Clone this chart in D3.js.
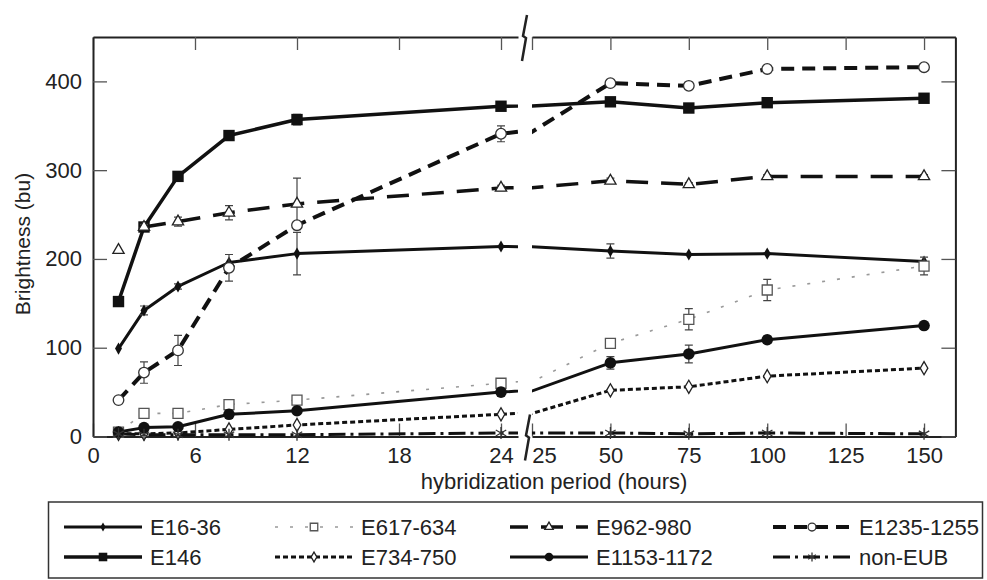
<!DOCTYPE html>
<html>
<head>
<meta charset="utf-8">
<script src="https://cdn.jsdelivr.net/npm/d3@7"></script>
<style>
  body { margin: 0; background: #fff; }
  svg { font-family: "Liberation Sans", Arial, sans-serif; }
</style>
</head>
<body>
<svg id="main" width="987" height="580"></svg>
<script>
"use strict";

//data
const hours = [1.5, 3, 5, 8, 12, 24, 50, 75, 100, 150];
const seriesNames = ["E16-36", "E146", "E617-634", "E734-750", "E962-980", "E1153-1172", "E1235-1255", "non-EUB"];
const e16_36     = [99, 142, 169, 196, 206, 214, 209, 205, 206, 197];
const e146       = [152, 236, 293, 339, 357, 372, 377, 370, 376, 381];
const e617_634   = [5, 26, 26, 36, 41, 60, 105, 132, 165, 192];
const e734_750   = [3, 3, 4, 8, 13, 25, 52, 56, 68, 77];
const e962_980   = [210, 236, 242, 252, 262, 280, 288, 284, 293, 293];
const e1153_1172 = [5, 10, 11, 25, 29, 50, 83, 93, 109, 125];
const e1235_1255 = [41, 72, 97, 190, 238, 341, 398, 395, 414, 416];
const nonEub     = [3, 2, 2, 2, 2, 4, 4, 3, 4, 3];
//error bar half heights
const err16_36     = [0, 5, 3, 0, 24, 0, 8, 0, 0, 0];
const err146       = [0, 0, 0, 0, 6, 0, 0, 0, 0, 0];
const err617_634   = [0, 0, 0, 0, 0, 0, 0, 12, 12, 10];
const err734_750   = [0, 0, 0, 0, 0, 0, 0, 0, 0, 0];
const err962_980   = [0, 3, 5, 8, 29, 3, 3, 2, 2, 2];
const err1153_1172 = [0, 0, 0, 0, 0, 0, 7, 10, 4, 0];
const err1235_1255 = [0, 12, 17, 15, 0, 9, 0, 0, 0, 0];
const errNonEub    = [0, 0, 0, 0, 0, 0, 0, 0, 0, 0];

//tick labels
const xTicksLeft = [0, 6, 12, 18, 24];
const xTicksRight = [25, 50, 75, 100, 125, 150];
const yTicks = [0, 100, 200, 300, 400];

//styles
const styles = {
  "E16-36":     { marker: "diamondFilled", width: 3, dash: null, color: "#111" },
  "E146":       { marker: "squareFilled", width: 3.5, dash: null, color: "#111" },
  "E617-634":   { marker: "squareOpen", width: 1.6, dash: "3,12", color: "#999" },
  "E734-750":   { marker: "diamondOpen", width: 3, dash: "5,3", color: "#111" },
  "E962-980":   { marker: "triangleOpen", width: 3.5, dash: "22,13", color: "#111", skipFirst: true },
  "E1153-1172": { marker: "circleFilled", width: 3, dash: null, color: "#111" },
  "E1235-1255": { marker: "circleOpen", width: 4, dash: "13,8", color: "#111" },
  "non-EUB":    { marker: "asterisk", width: 3, dash: "17,5,3,5", color: "#111" }
};

const values = [e16_36, e146, e617_634, e734_750, e962_980, e1153_1172, e1235_1255, nonEub];
const errors = [err16_36, err146, err617_634, err734_750, err962_980, err1153_1172, err1235_1255, errNonEub];

const series = seriesNames.map((name, i) => ({
  name: name,
  style: styles[name],
  points: hours.map((h, j) => ({ h: h, v: values[i][j], e: errors[i][j] }))
}));

//scales
const xL = d3.scaleLinear().domain([0, 25]).range([93, 518]);
const xR = d3.scaleLinear().domain([25, 160]).range([532, 955.4]);
const y = d3.scaleLinear().domain([0, 450]).range([436.5, 37]);

const mySvg = d3.select("#main");
const defs = mySvg.append("defs");
defs.append("clipPath").attr("id", "clipL")
  .append("rect").attr("x", 93).attr("y", 0).attr("width", 425).attr("height", 450);
defs.append("clipPath").attr("id", "clipR")
  .append("rect").attr("x", 532).attr("y", 0).attr("width", 424).attr("height", 450);

const panels = [
  { x: xL, clip: "clipL", keep: (h) => h <= 25 },
  { x: xR, clip: "clipR", keep: (h) => h >= 25 }
];

//axes
const styleAxis = (g) => {
  g.select(".domain").attr("stroke", "#222").attr("stroke-width", 2);
  g.selectAll(".tick line").attr("stroke", "#555").attr("stroke-width", 1.3);
  g.selectAll(".tick text").attr("fill", "#222").style("font-size", "22px");
}

mySvg.append("g").attr("transform", `translate(0,${y(0)})`)
  .call(d3.axisBottom(xL).tickValues(xTicksLeft).tickSizeInner(-13).tickSizeOuter(0).tickPadding(11))
  .call(styleAxis);
const bottomRight = mySvg.append("g").attr("transform", `translate(0,${y(0)})`)
  .call(d3.axisBottom(xR).tickValues(xTicksRight).tickSizeInner(-13).tickSizeOuter(0).tickPadding(11))
  .call(styleAxis);
bottomRight.selectAll(".tick text").filter((d) => d === 25).attr("dx", 12);

mySvg.append("g").attr("transform", `translate(0,${y(450)})`)
  .call(d3.axisTop(xL).tickValues(xTicksLeft).tickSizeInner(-13).tickSizeOuter(0).tickFormat(""))
  .call(styleAxis);
mySvg.append("g").attr("transform", `translate(0,${y(450)})`)
  .call(d3.axisTop(xR).tickValues(xTicksRight).tickSizeInner(-13).tickSizeOuter(0).tickFormat(""))
  .call(styleAxis);

mySvg.append("g").attr("transform", `translate(${xL(0)},0)`)
  .call(d3.axisLeft(y).tickValues(yTicks).tickSizeInner(-14).tickSizeOuter(0).tickPadding(11))
  .call(styleAxis);
mySvg.append("g").attr("transform", `translate(${xR(160)},0)`)
  .call(d3.axisRight(y).tickValues(yTicks).tickSizeInner(-14).tickSizeOuter(0).tickFormat(""))
  .call(styleAxis);

//axis break marks
const breakMark = (cx, cy) => `M${cx + 3},${cy - 22} L${cx - 1},${cy - 1} L${cx + 2},${cy + 1} L${cx - 2},${cy + 24}`;
mySvg.append("path").attr("d", breakMark(524, y(450)))
  .attr("fill", "none").attr("stroke", "#222").attr("stroke-width", 2.5);
mySvg.append("path").attr("d", breakMark(527, y(0)))
  .attr("fill", "none").attr("stroke", "#222").attr("stroke-width", 2.5);

//axis titles
mySvg.append("text")
  .attr("transform", "translate(23,244) rotate(-90)")
  .attr("text-anchor", "middle").attr("dy", "0.35em")
  .attr("fill", "#222").style("font-size", "21px")
  .text("Brightness (bu)");
mySvg.append("text")
  .attr("x", 554).attr("y", 489)
  .attr("text-anchor", "middle")
  .attr("fill", "#222").style("font-size", "22px")
  .text("hybridization period (hours)");

//markers
const asteriskPath = (r) => {
  const a = r * 0.87, b = r * 0.5;
  return `M0,${-r}V${r}M${-a},${-b}L${a},${b}M${-a},${b}L${a},${-b}`;
}

const drawMarker = (g, kind, cx, cy, scale) => {
  const k = scale || 1;
  const t = `translate(${cx},${cy})`;
  switch (kind) {
    case "diamondFilled":
      g.append("path").attr("transform", t).attr("d", d3.symbol(d3.symbolDiamond, 42 * k * k)())
        .attr("fill", "#111");
      break;
    case "squareFilled":
      g.append("path").attr("transform", t).attr("d", d3.symbol(d3.symbolSquare, 130 * k * k)())
        .attr("fill", "#111");
      break;
    case "squareOpen":
      g.append("path").attr("transform", t).attr("d", d3.symbol(d3.symbolSquare, 100 * k * k)())
        .attr("fill", "#fff").attr("stroke", "#555").attr("stroke-width", 1.3);
      break;
    case "diamondOpen":
      g.append("path").attr("transform", t).attr("d", d3.symbol(d3.symbolDiamond, 50 * k * k)())
        .attr("fill", "#fff").attr("stroke", "#222").attr("stroke-width", 1.3);
      break;
    case "triangleOpen":
      g.append("path").attr("transform", t).attr("d", d3.symbol(d3.symbolTriangle, 55 * k * k)())
        .attr("fill", "#fff").attr("stroke", "#222").attr("stroke-width", 1.3);
      break;
    case "circleFilled":
      g.append("circle").attr("cx", cx).attr("cy", cy).attr("r", 5.8 * k).attr("fill", "#111");
      break;
    case "circleOpen":
      g.append("circle").attr("cx", cx).attr("cy", cy).attr("r", 5.3 * k)
        .attr("fill", "#fff").attr("stroke", "#333").attr("stroke-width", 1.3);
      break;
    case "asterisk":
      g.append("path").attr("transform", t).attr("d", asteriskPath(6 * k))
        .attr("fill", "none").attr("stroke", "#333").attr("stroke-width", 1.3);
      break;
  }
}

//lines, clipped per panel
const linesG = mySvg.append("g");
panels.forEach((p) => {
  const line = d3.line().x((d) => p.x(d.h)).y((d) => y(d.v));
  const pg = linesG.append("g").attr("clip-path", `url(#${p.clip})`);
  series.forEach((s) => {
    const pts = s.style.skipFirst ? s.points.slice(1) : s.points;
    pg.append("path")
      .attr("d", line(pts))
      .attr("fill", "none")
      .attr("stroke", s.style.color)
      .attr("stroke-width", s.style.width)
      .attr("stroke-dasharray", s.style.dash)
      .attr("stroke-linejoin", "round");
  });
});

//error bars and markers
const markG = mySvg.append("g");
panels.forEach((p) => {
  series.forEach((s) => {
    s.points.filter((d) => p.keep(d.h)).forEach((d) => {
      const cx = p.x(d.h);
      if (d.e > 0) {
        const y0 = y(d.v - d.e), y1 = y(d.v + d.e);
        markG.append("path")
          .attr("d", `M${cx},${y0}V${y1}M${cx - 4},${y0}H${cx + 4}M${cx - 4},${y1}H${cx + 4}`)
          .attr("fill", "none").attr("stroke", "#444").attr("stroke-width", 1.2);
      }
      drawMarker(markG, s.style.marker, cx, y(d.v));
    });
  });
});

//legend
const legendG = mySvg.append("g");
legendG.append("rect")
  .attr("x", 48.5).attr("y", 502).attr("width", 934).attr("height", 76)
  .attr("fill", "#fff").attr("stroke", "#333").attr("stroke-width", 1.5);

const legendCols = [64, 275, 510, 773];
const legendRows = [527, 557];
//column-major order like the reference
const legendOrder = ["E16-36", "E146", "E617-634", "E734-750", "E962-980", "E1153-1172", "E1235-1255", "non-EUB"];
legendOrder.forEach((name, i) => {
  const st = styles[name];
  const x0 = legendCols[Math.floor(i / 2)];
  const ly = legendRows[i % 2];
  legendG.append("line")
    .attr("x1", x0).attr("x2", x0 + 78).attr("y1", ly).attr("y2", ly)
    .attr("stroke", st.color).attr("stroke-width", st.width)
    .attr("stroke-dasharray", st.dash)
    .attr("stroke-dashoffset", name === "E962-980" ? 4 : 0);
  drawMarker(legendG, st.marker, x0 + 39, ly, 0.75);
  legendG.append("text")
    .attr("x", x0 + 86).attr("y", ly).attr("dy", "0.36em")
    .attr("fill", "#222").style("font-size", "22px")
    .text(name);
});
</script>
</body>
</html>
